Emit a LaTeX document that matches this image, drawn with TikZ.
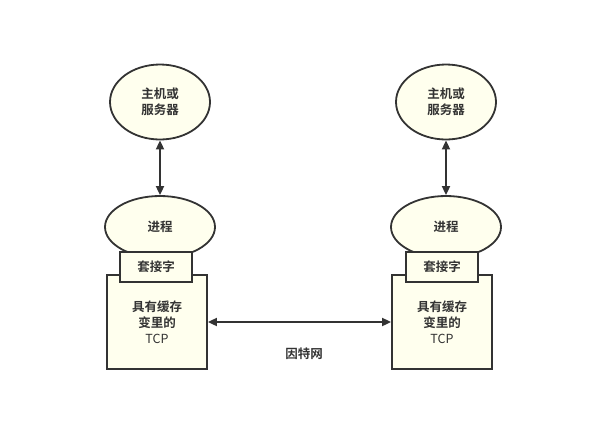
\documentclass[tikz,border=0pt]{standalone}
\usepackage{fontspec}
\setmainfont{Noto Sans CJK SC}[BoldFont={* Bold}]
\usetikzlibrary{arrows.meta,shapes.geometric}

\definecolor{boxfill}{HTML}{FFFFEE}
\definecolor{ink}{HTML}{333333}

\tikzset{
  every node/.style={font=\fontsize{12.5}{16}\selectfont\bfseries, text=ink},
  blob/.style={ellipse, draw=ink, line width=1.8pt, fill=boxfill, align=center},
  part/.style={rectangle, draw=ink, line width=1.8pt, fill=boxfill, align=center},
  link/.style={{Triangle[length=9pt,width=8pt]}-{Triangle[length=9pt,width=8pt]}, draw=ink, line width=1.8pt}
}

\begin{document}
\begin{tikzpicture}[x=1pt, y=-1pt]

\useasboundingbox (0,0) rectangle (591,424);

% left side
\node[blob, minimum width=100pt, minimum height=75pt] (host1) at (160,102) {主机或\\服务器};
\node[blob, minimum width=110pt, minimum height=62pt] (proc1) at (160,227) {进程};
\node[part, minimum width=100pt, minimum height=94pt] (tcp1) at (157,322) {具有缓存\\变里的\\\mdseries TCP};
\node[part, minimum width=72pt, minimum height=30pt] (sock1) at (156,267) {套接字};

% right side
\node[blob, minimum width=100pt, minimum height=75pt] (host2) at (446,102) {主机或\\服务器};
\node[blob, minimum width=110pt, minimum height=62pt] (proc2) at (446,227) {进程};
\node[part, minimum width=100pt, minimum height=94pt] (tcp2) at (442,322) {具有缓存\\变里的\\\mdseries TCP};
\node[part, minimum width=72pt, minimum height=30pt] (sock2) at (442,267) {套接字};

% links
\draw[link] (host1.south) -- (proc1.north);
\draw[link] (host2.south) -- (proc2.north);
\draw[link] (tcp1.east) -- (tcp2.west);

\node (net) at (304,354) {因特网};

\end{tikzpicture}
\end{document}
